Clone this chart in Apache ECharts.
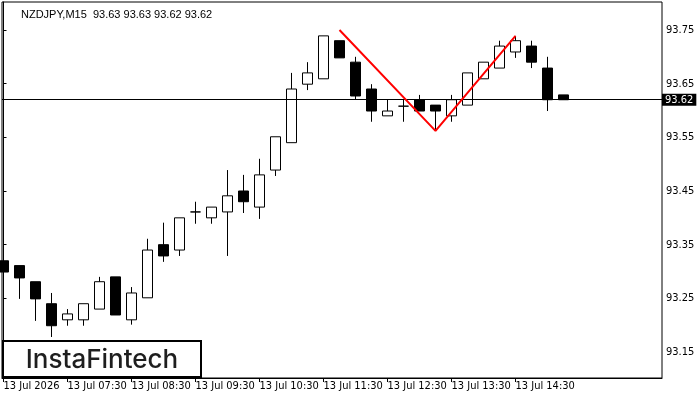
<!DOCTYPE html>
<html>
<head>
<meta charset="utf-8">
<script src="https://cdn.jsdelivr.net/npm/echarts@6/dist/echarts.min.js"></script>
<style>
html, body { margin: 0; padding: 0; background: #fff; }
#main { width: 700px; height: 400px; }
</style>
</head>
<body>
<div id="main"></div>
<script>
// NZDJPY M15 candles, one per 15 minutes
var opens  = [93.320, 93.311, 93.281, 93.240, 93.210, 93.210, 93.230, 93.290, 93.210, 93.251,
              93.350, 93.340, 93.411, 93.400, 93.411, 93.450, 93.420, 93.489, 93.540, 93.649,
              93.659, 93.730, 93.690, 93.640, 93.590, 93.608, 93.620, 93.610, 93.590, 93.610,
              93.659, 93.679, 93.709, 93.720, 93.679, 93.629];
var closes = [93.299, 93.288, 93.249, 93.199, 93.221, 93.240, 93.281, 93.219, 93.260, 93.340,
              93.329, 93.400, 93.411, 93.420, 93.441, 93.430, 93.480, 93.551, 93.640, 93.670,
              93.739, 93.698, 93.627, 93.599, 93.599, 93.608, 93.599, 93.599, 93.620, 93.670,
              93.690, 93.720, 93.730, 93.690, 93.620, 93.620];
var lows   = [93.288, 93.249, 93.208, 93.178, 93.199, 93.199, 93.230, 93.219, 93.201, 93.251,
              93.318, 93.329, 93.389, 93.389, 93.329, 93.409, 93.398, 93.478, 93.540, 93.638,
              93.659, 93.698, 93.620, 93.579, 93.590, 93.579, 93.599, 93.564, 93.579, 93.610,
              93.659, 93.679, 93.698, 93.679, 93.599, 93.620];
var highs  = [93.340, 93.311, 93.281, 93.260, 93.230, 93.240, 93.290, 93.290, 93.271, 93.361,
              93.391, 93.400, 93.430, 93.420, 93.489, 93.480, 93.510, 93.551, 93.670, 93.690,
              93.739, 93.730, 93.700, 93.649, 93.620, 93.620, 93.629, 93.610, 93.629, 93.670,
              93.690, 93.730, 93.739, 93.730, 93.700, 93.629];

// double top pattern: [candle index, price]
var patternPts = [[21, 93.750], [27, 93.562], [32, 93.739]];

var tickIdx = [0, 4, 8, 12, 16, 20, 24, 28, 32];
var tickLabels = ['13 Jul 2026', '13 Jul 07:30', '13 Jul 08:30', '13 Jul 09:30', '13 Jul 10:30',
                  '13 Jul 11:30', '13 Jul 12:30', '13 Jul 13:30', '13 Jul 14:30'];
var priceTicks = [93.15, 93.25, 93.35, 93.45, 93.55, 93.65, 93.75];

var last = opens.length - 1;
var lastPrice = closes[last];
var titleText = 'NZDJPY,M15  ' + opens[last].toFixed(2) + ' ' + highs[last].toFixed(2) + ' ' +
                lows[last].toFixed(2) + ' ' + closes[last].toFixed(2);

var candles = [];
for (var i = 0; i < opens.length; i++) {
    candles.push([i, opens[i], closes[i], lows[i], highs[i]]);
}

var axisFont = '"Liberation Sans Narrow", "DejaVu Sans Condensed", sans-serif';

var myChart = echarts.init(document.getElementById('main'));

var option = {
    animation: false,
    backgroundColor: '#fff',
    title: {
        text: titleText,
        left: 16,
        top: 4,
        textStyle: { fontSize: 11, fontWeight: 'normal', color: '#000', fontFamily: '"Liberation Sans", sans-serif' }
    },
    grid: {
        left: 2, right: 38, top: 2, bottom: 22,
        show: true, borderColor: '#000', borderWidth: 1, backgroundColor: '#fff'
    },
    xAxis: {
        type: 'value',
        min: -0.09375,
        max: 41.15625,
        axisLine: { show: true, lineStyle: { color: '#000', width: 1 } },
        splitLine: { show: false },
        axisTick: { show: true, customValues: tickIdx, length: 4, lineStyle: { color: '#000' } },
        axisLabel: {
            customValues: tickIdx,
            formatter: function (v) { return tickLabels[tickIdx.indexOf(Math.round(v))]; },
            align: 'left', margin: 3, fontSize: 11, color: '#000', fontFamily: axisFont
        }
    },
    yAxis: {
        type: 'value',
        position: 'right',
        min: 93.1016,
        max: 93.8021,
        axisLine: { show: true, lineStyle: { color: '#000', width: 1 } },
        splitLine: { show: false },
        axisTick: { show: true, customValues: priceTicks, length: 3, lineStyle: { color: '#000' } },
        axisLabel: {
            customValues: priceTicks,
            formatter: function (v) { return v.toFixed(2); },
            margin: 4, fontSize: 11, color: '#000', fontFamily: axisFont
        }
    },
    series: [{
        type: 'candlestick',
        data: candles,
        encode: { x: 0, y: [1, 2, 3, 4] },
        barWidth: 10,
        itemStyle: {
            color: '#fff', color0: '#000',
            borderColor: '#000', borderColor0: '#000',
            borderWidth: 1
        },
        markLine: {
            silent: true,
            symbol: ['none', 'none'],
            data: [{ yAxis: lastPrice }],
            lineStyle: { color: '#000', type: 'solid', width: 1 },
            label: {
                position: 'end', distance: 0,
                formatter: lastPrice.toFixed(2),
                color: '#fff', backgroundColor: '#000',
                padding: [1, 3, 0, 3], fontSize: 11, fontFamily: axisFont
            }
        }
    }, {
        type: 'line',
        data: patternPts,
        symbol: 'none',
        lineStyle: { color: '#ff0000', width: 2 },
        z: 5
    }],
    graphic: [{
        type: 'rect',
        shape: { x: 3, y: 341, width: 198, height: 36 },
        style: { fill: '#fff', stroke: '#000', lineWidth: 2 },
        z: 100
    }, {
        type: 'text',
        style: {
            x: 102, y: 360, text: 'InstaFintech', align: 'center', verticalAlign: 'middle',
            fontSize: 26, fontWeight: 500, fontFamily: 'Inter, sans-serif', fill: '#1e1e1e'
        },
        z: 101
    }]
};

myChart.setOption(option);
</script>
</body>
</html>
